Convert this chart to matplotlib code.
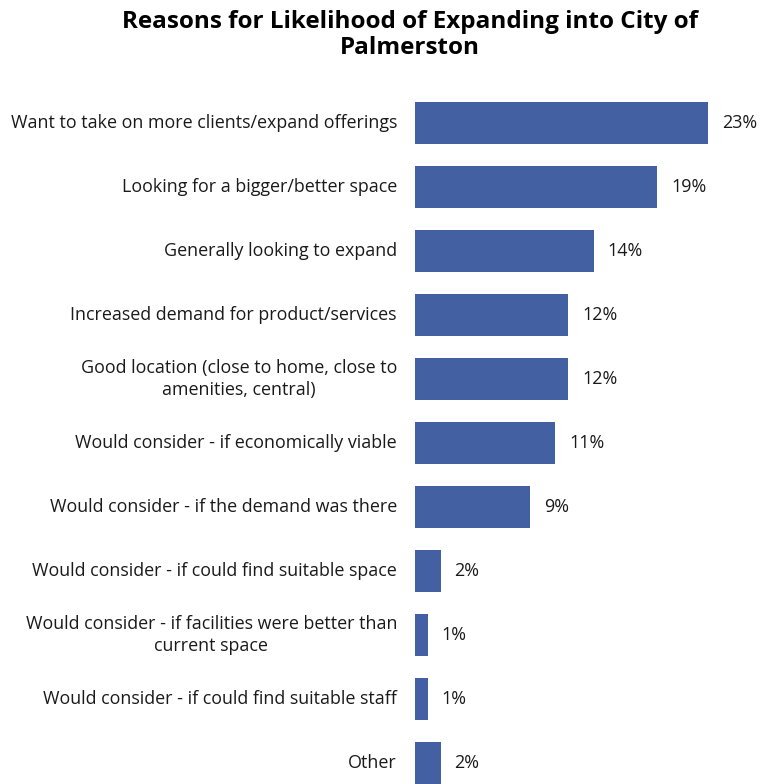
import matplotlib
matplotlib.use('Agg')
import matplotlib.pyplot as plt
import matplotlib.transforms as mtransforms

REASONS = [
    'Want to take on more clients/expand offerings',
    'Looking for a bigger/better space',
    'Generally looking to expand',
    'Increased demand for product/services',
    'Good location (close to home, close to\namenities, central)',
    'Would consider - if economically viable',
    'Would consider - if the demand was there',
    'Would consider - if could find suitable space',
    'Would consider - if facilities were better than\ncurrent space',
    'Would consider - if could find suitable staff',
    'Other',
]
PERCENTS = [23, 19, 14, 12, 12, 11, 9, 2, 1, 1, 2]

BAR_COLOR = '#4361A2'
plt.rcParams['font.family'] = ['Open Sans', 'DejaVu Sans']


def main():
    fig = plt.figure(figsize=(7.6, 7.84), dpi=100)
    ax = fig.add_axes([415 / 760, 0, 345 / 760, 1])

    pos = list(range(len(REASONS)))
    ax.barh(pos, PERCENTS, height=0.66, color=BAR_COLOR)
    ax.set_xlim(0, 345 / 12.75)
    ax.set_ylim((784 - 123) / 64, -123 / 64)
    ax.axis('off')

    # category labels sit to the left of the bars
    lab_tr = mtransforms.offset_copy(ax.transData, fig=fig, x=-18, y=0, units='dots')
    for p, name in zip(pos, REASONS):
        ax.text(0, p, name, transform=lab_tr, ha='right', va='center',
                ma='center', fontsize=12.9, color='#1a1a1a', linespacing=1.35,
                clip_on=False)

    val_tr = mtransforms.offset_copy(ax.transData, fig=fig, x=14, y=0, units='dots')
    for p, v in zip(pos, PERCENTS):
        ax.text(v, p, '{0}%'.format(v), transform=val_tr, ha='left',
                va='center', fontsize=12.9, color='#1a1a1a', clip_on=False)

    fig.text(410 / 760, 1 - 35 / 784,
             'Reasons for Likelihood of Expanding into City of\nPalmerston',
             ha='center', va='center', fontsize=17.5, fontweight='bold',
             linespacing=1.12)

    fig.savefig('out.png', dpi=100, facecolor='white')


if __name__ == '__main__':
    main()
